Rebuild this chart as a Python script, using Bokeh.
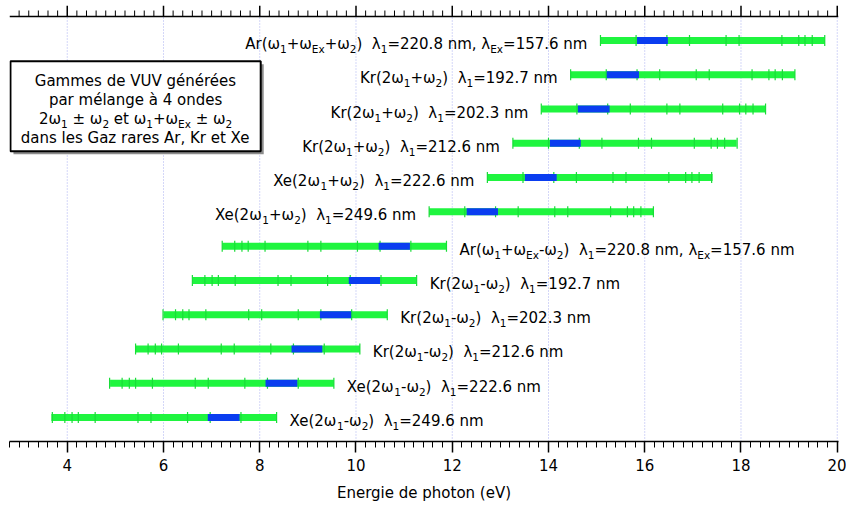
import math
from bokeh.plotting import figure
from bokeh.models import Range1d, SingleIntervalTicker, ColumnDataSource
from bokeh.core.properties import value
from bokeh.embed import file_html
from bokeh.resources import INLINE

# ---------------- data (rows listed top to bottom) ----------------
labels = [
    "Ar(ω_{1}+ω_{Ex}+ω_{2})  λ_{1}=220.8 nm, λ_{Ex}=157.6 nm",
    "Kr(2ω_{1}+ω_{2})  λ_{1}=192.7 nm",
    "Kr(2ω_{1}+ω_{2})  λ_{1}=202.3 nm",
    "Kr(2ω_{1}+ω_{2})  λ_{1}=212.6 nm",
    "Xe(2ω_{1}+ω_{2})  λ_{1}=222.6 nm",
    "Xe(2ω_{1}+ω_{2})  λ_{1}=249.6 nm",
    "Ar(ω_{1}+ω_{Ex}-ω_{2})  λ_{1}=220.8 nm, λ_{Ex}=157.6 nm",
    "Kr(2ω_{1}-ω_{2})  λ_{1}=192.7 nm",
    "Kr(2ω_{1}-ω_{2})  λ_{1}=202.3 nm",
    "Kr(2ω_{1}-ω_{2})  λ_{1}=212.6 nm",
    "Xe(2ω_{1}-ω_{2})  λ_{1}=222.6 nm",
    "Xe(2ω_{1}-ω_{2})  λ_{1}=249.6 nm",
]
mixing_sign = ["+", "+", "+", "+", "+", "+", "-", "-", "-", "-", "-", "-"]
green_lo = [15.08, 14.46, 13.85, 13.26, 12.73, 11.52, 7.22, 6.61, 6.00, 5.41, 4.89, 3.67]
green_hi = [19.74, 19.12, 18.52, 17.91, 17.41, 16.19, 11.88, 11.26, 10.65, 10.08, 9.54, 8.35]
blue_lo = [15.84, 15.21, 14.61, 14.03, 13.51, 12.30, 10.47, 9.85, 9.25, 8.66, 8.12, 6.92]
blue_hi = [16.48, 15.88, 15.27, 14.67, 14.17, 12.95, 11.12, 10.50, 9.90, 9.30, 8.78, 7.58]
# omega2 scan points, as distance (eV) from the bar end nearest the pump energy
scan_offsets = [0.0, 0.74, 1.38, 1.85, 2.61, 2.88, 3.77, 4.12, 4.25, 4.40, 4.66]

legend_lines = [
    "Gammes de VUV générées",
    "par mélange à 4 ondes",
    "2ω_{1} ± ω_{2} et ω_{1}+ω_{Ex} ± ω_{2}",
    "dans les Gaz rares Ar, Kr et Xe",
]
x_title = "Energie de photon (eV)"
x_min, x_max = 2.80, 20.026
major_step, minor_step = 2, 0.2

# ---------------- style ----------------
FONT = "DejaVu Sans"
MAIN_PX = 15.0
SUB_PX = 10.5
GREEN = "#1FF53F"
BLUE = "#0A3DF0"
Y_LO, Y_HI = 0.3, 12.7
PX_PER_ROW = (436 - 11) / (Y_HI - Y_LO)
Y_TOP = Y_HI + 11 / PX_PER_ROW

# DejaVu Sans advance widths (units of 1/2048 em)
_W = {" ": 651, "\u00a0": 651, "(": 799, ")": 799, "+": 1716, ",": 651, "-": 739, ".": 651,
      "=": 1716, "±": 1716, "A": 1401, "E": 1294, "G": 1589, "K": 1343, "U": 1499,
      "V": 1401, "X": 1403, "a": 1255, "d": 1300, "e": 1260, "é": 1260, "à": 1255,
      "g": 1300, "i": 569, "l": 569, "m": 1995, "n": 1298, "o": 1253, "p": 1300,
      "r": 842, "s": 1067, "t": 803, "x": 1212, "z": 1075, "λ": 1212, "ω": 1710}
for _d in "0123456789":
    _W[_d] = 1303


def tw(s, px):
    return sum(_W.get(c, 1230) for c in s) / 2048.0 * px


def parse(markup):
    segs, buf, i = [], "", 0
    while i < len(markup):
        if markup.startswith("_{", i):
            if buf:
                segs.append((buf, False))
                buf = ""
            j = markup.index("}", i)
            segs.append((markup[i + 2:j], True))
            i = j + 1
        else:
            buf += markup[i]
            i += 1
    if buf:
        segs.append((buf, False))
    return segs


def layout(markup):
    out, x = [], 0.0
    for t, sub in parse(markup):
        px = SUB_PX if sub else MAIN_PX
        lead = len(t) - len(t.lstrip(" "))
        core = t.strip(" ").replace("  ", "\u00a0 ")
        out.append((core, sub, x + tw(" " * lead, px)))
        x += tw(t, px)
    return out, x


main = dict(x=[], y=[], text=[], xo=[], yo=[])
subs = dict(x=[], y=[], text=[], xo=[], yo=[])


def add_text(markup, x, y, start_px, base_px):
    segs, total = layout(markup)
    for core, sub, off in segs:
        d = subs if sub else main
        d["x"].append(x)
        d["y"].append(y)
        d["text"].append(core)
        d["xo"].append(start_px + off)
        d["yo"].append(base_px + (5.0 if sub else 0.0))
    return total


# ---------------- figure ----------------
p = figure(width=846, height=506, output_backend="svg", toolbar_location=None,
           x_range=Range1d(x_min, x_max), y_range=Range1d(Y_LO, Y_TOP),
           y_axis_location=None, min_border_left=9, min_border_right=8,
           min_border_top=5, min_border_bottom=65)
p.outline_line_color = None
p.background_fill_color = "white"
p.border_fill_color = "white"
p.grid.visible = False

ticker = SingleIntervalTicker(interval=major_step, num_minor_ticks=10)
ax = p.xaxis[0]
ax.ticker = ticker
ax.axis_label = x_title
ax.major_tick_in = 0
ax.major_tick_out = 11
ax.minor_tick_in = 0
ax.minor_tick_out = 6
ax.axis_line_width = 1.5
ax.major_tick_line_width = 1.5
ax.minor_tick_line_width = 1
ax.major_label_text_font = FONT
ax.major_label_text_font_size = "15px"
ax.major_label_text_color = "black"
ax.major_label_standoff = 6
ax.axis_label_text_font = FONT
ax.axis_label_text_font_size = "15px"
ax.axis_label_text_font_style = "normal"
ax.axis_label_text_color = "black"
ax.axis_label_standoff = 10

# tick positions for the top axis and the grid (axis furniture, not data)
majors = [4 + major_step * k for k in range(9)]
minors = [round(3.0 + minor_step * k, 2) for k in range(86)]
minors = [m for m in minors if x_min <= m <= x_max and abs(m / 2 - round(m / 2)) > 1e-6]

# dotted vertical grid (stops at the top axis line)
p.segment(x0=majors, x1=majors, y0=[Y_LO] * len(majors), y1=[Y_HI] * len(majors),
          line_color="#a9aff0", line_dash="1 2", line_width=1)

# top axis: line + outward ticks, no labels
p.segment(x0=[x_min], x1=[x_max], y0=[Y_HI], y1=[Y_HI], line_color="black", line_width=1.5)
p.ray(x=majors, y=[Y_HI] * len(majors), length=11, length_units="screen",
      angle=math.pi / 2, line_color="black", line_width=1.5)
p.ray(x=minors, y=[Y_HI] * len(minors), length=6, length_units="screen",
      angle=math.pi / 2, line_color="black", line_width=1)

rows = [12 - i for i in range(len(labels))]

# legend box (shadow + box)
bx0, bx1 = 2.82, 8.02
by1 = Y_HI - (60.7 - 16) / PX_PER_ROW
by0 = Y_HI - (150.7 - 16) / PX_PER_ROW
sx, sy = 3 / 48.125, 3 / PX_PER_ROW
p.quad(left=[bx0 + sx], right=[bx1 + sx], bottom=[by0 - sy], top=[by1 - sy],
       fill_color="#8c8c8c", line_color=None)
p.quad(left=[bx0], right=[bx1], bottom=[by0], top=[by1],
       fill_color="white", line_color="black", line_width=2)

# bars
p.segment(x0=green_lo, x1=green_hi, y0=rows, y1=rows, line_color=GREEN,
          line_width=7, line_cap="butt")
tx, ty = [], []
for i, r in enumerate(rows):
    for o in scan_offsets:
        tx.append(green_lo[i] + o if mixing_sign[i] == "+" else green_hi[i] - o)
        ty.append(r)
p.scatter(x=tx, y=ty, marker="dash", angle=math.pi / 2, size=11,
          line_color="#19dc38", line_width=1.2)
p.segment(x0=blue_lo, x1=blue_hi, y0=rows, y1=rows, line_color=BLUE,
          line_width=7, line_cap="butt")

# row labels
for i, r in enumerate(rows):
    segs, total = layout(labels[i])
    if mixing_sign[i] == "+":
        add_text(labels[i], green_lo[i], r, -13.0 - total, 3.5)
    else:
        add_text(labels[i], green_hi[i], r, 13.0, 3.5)

# legend text
cx = (bx0 + bx1) / 2
for k, line in enumerate(legend_lines):
    segs, total = layout(line)
    add_text(line, cx, by1, -total / 2.0, 19.3 + 19.0 * k)

for d, size in ((main, MAIN_PX), (subs, SUB_PX)):
    p.text(x="x", y="y", text="text", x_offset="xo", y_offset="yo",
           source=ColumnDataSource(d), text_font=value(FONT),
           text_font_size=value(f"{size}px"), text_baseline="alphabetic",
           text_align="left", text_color="black")

open("out.html", "w").write(file_html(p, INLINE))
